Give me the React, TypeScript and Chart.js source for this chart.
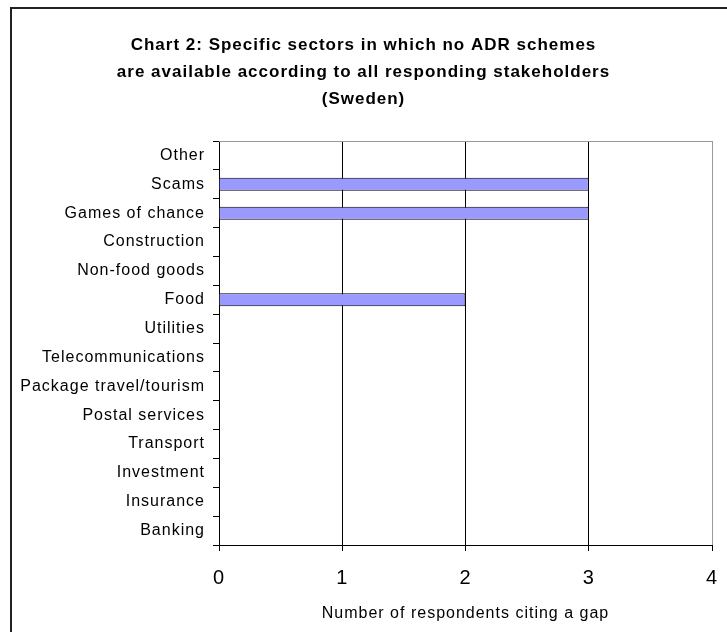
import React, { useEffect, useRef } from "react";
import { Chart, registerables } from "chart.js";

Chart.register(...registerables);

const categories = [
  "Other",
  "Scams",
  "Games of chance",
  "Construction",
  "Non-food goods",
  "Food",
  "Utilities",
  "Telecommunications",
  "Package travel/tourism",
  "Postal services",
  "Transport",
  "Investment",
  "Insurance",
  "Banking",
];
const respondents = [0, 3, 3, 0, 0, 2, 0, 0, 0, 0, 0, 0, 0, 0];
const titleLines = [
  "Chart 2: Specific sectors in which no ADR schemes",
  "are available according to all responding stakeholders",
  "(Sweden)",
];
const xAxisTitle = "Number of respondents citing a gap";
const xMin = 0;
const xMax = 4;

const FONT = "'Liberation Sans', Arial, Helvetica, sans-serif";

const spacing = {
  id: "spacing",
  beforeUpdate(chart: any) {
    chart.ctx.letterSpacing = "1px";
  },
  beforeDraw(chart: any) {
    chart.ctx.letterSpacing = "1px";
  },
};

const frameBorders = {
  id: "frameBorders",
  afterDraw(chart: any) {
    const { ctx, chartArea } = chart;
    ctx.save();
    ctx.strokeStyle = "#9a9a9a";
    ctx.lineWidth = 1;
    ctx.beginPath();
    ctx.moveTo(chartArea.left, chartArea.top + 0.5);
    ctx.lineTo(chartArea.right, chartArea.top + 0.5);
    ctx.stroke();
    ctx.restore();
  },
};

export default function App() {
  const ref = useRef<HTMLCanvasElement | null>(null);
  useEffect(() => {
    if (!ref.current) return;
    const chart = new Chart(ref.current, {
      type: "bar",
      data: {
        labels: categories,
        datasets: [
          {
            data: respondents,
            backgroundColor: "#9999FF",
            borderColor: "#000000",
            borderWidth: 1,
            barPercentage: 0.45,
            categoryPercentage: 1,
          },
        ],
      },
      plugins: [spacing, frameBorders],
      options: {
        indexAxis: "y",
        responsive: false,
        animation: false,
        layout: { padding: { left: 0, right: 0, top: 0, bottom: 0 } },
        plugins: {
          legend: { display: false },
          tooltip: { enabled: false },
          title: {
            display: true,
            text: titleLines,
            color: "#000",
            font: { family: FONT, size: 17, weight: "bold", lineHeight: 27 / 17 },
            padding: { top: 31.5, bottom: 28.5 },
          },
        },
        scales: {
          x: {
            type: "linear",
            min: xMin,
            max: xMax,
            ticks: {
              stepSize: 1,
              color: "#000",
              font: { family: FONT, size: 20 },
              padding: 15,
              maxRotation: 0,
            },
            grid: {
              color: (c: any) => (c.tick && c.tick.value === xMax ? "#9a9a9a" : "#000"),
              tickColor: "#000",
              tickLength: 6,
              lineWidth: 1,
            },
            border: { color: "#000", width: 1 },
            title: {
              display: true,
              text: xAxisTitle,
              color: "#000",
              font: { family: FONT, size: 16 },
              padding: { top: 4, bottom: 9 },
            },
            afterFit: (s: any) => {
              s.height = 87;
              s.paddingRight = 15;
              s.paddingLeft = 0;
            },
          },
          y: {
            type: "category",
            ticks: {
              color: "#000",
              font: { family: FONT, size: 16 },
              padding: 8,
              autoSkip: false,
            },
            grid: {
              drawOnChartArea: false,
              tickColor: "#000",
              tickLength: 6,
              offset: true,
            },
            border: { color: "#000", width: 1 },
            afterFit: (s: any) => {
              s.width = 219;
            },
          },
        },
      },
    });
    return () => chart.destroy();
  }, []);

  return (
    <div style={{ position: "fixed", left: 0, top: 0, width: 727, height: 632, background: "#fff", overflow: "hidden" }}>
      <canvas ref={ref} width={727} height={632} style={{ position: "absolute", left: 0, top: 0 }} />
      <div
        style={{
          position: "absolute",
          left: 10,
          top: 7,
          width: 717,
          height: 625,
          borderLeft: "2px solid #222",
          borderTop: "2px solid #222",
          boxSizing: "border-box",
          pointerEvents: "none",
        }}
      />
    </div>
  );
}
